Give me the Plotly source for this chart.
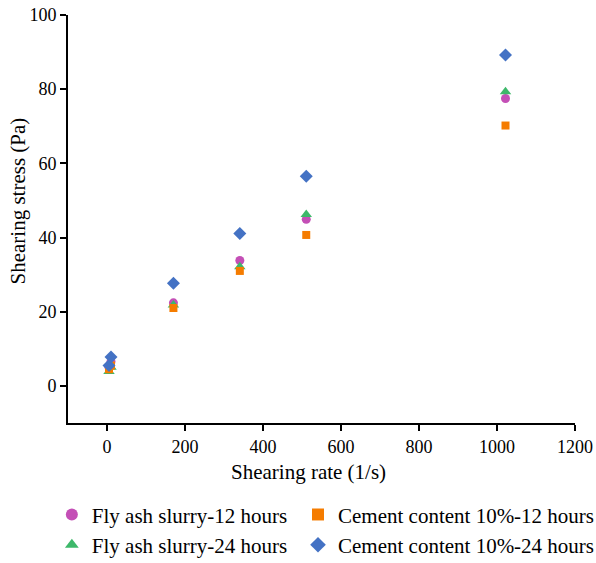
import plotly.graph_objects as go

shear_rate = [5.11, 10.22, 170.3, 340.6, 510.9, 1021.8]
fly_ash_12h = [5.0, 6.5, 22.4, 33.8, 44.9, 77.5]
fly_ash_24h = [3.9, 5.0, 21.8, 32.1, 46.2, 79.3]
cement_12h = [4.5, 5.5, 21.0, 31.0, 40.7, 70.2]
cement_24h = [5.5, 7.8, 27.7, 41.1, 56.5, 89.2]

x_ticks = [0, 200, 400, 600, 800, 1000, 1200]
y_ticks = [0, 20, 40, 60, 80, 100]

FONT = "Liberation Serif"

series = [
    ("Fly ash slurry-12 hours", fly_ash_12h, "circle", "#C44FB6", 9, "legend"),
    ("Fly ash slurry-24 hours", fly_ash_24h, "triangle-up", "#3DB86A", 10, "legend"),
    ("Cement content 10%-12 hours", cement_12h, "square", "#F57C00", 8, "legend2"),
    ("Cement content 10%-24 hours", cement_24h, "diamond", "#4472C4", 10, "legend2"),
]

fig = go.Figure()
for name, ys, sym, col, sz, leg in series:
    fig.add_trace(go.Scatter(
        x=shear_rate, y=ys, mode="markers", name=name, legend=leg,
        marker=dict(symbol=sym, color=col, size=sz, line=dict(width=0)),
    ))

axis_common = dict(
    showgrid=False, zeroline=False, showline=True, linecolor="black", linewidth=2,
    ticks="outside", ticklen=6, tickwidth=2, tickcolor="black", automargin=False,
    tickfont=dict(family=FONT, size=18, color="black"),
)

legend_common = dict(
    orientation="v", xref="container", yref="container",
    xanchor="left", yanchor="top", font=dict(family=FONT, size=21, color="black"),
    itemsizing="constant", tracegroupgap=0, bgcolor="rgba(0,0,0,0)",
)

fig.update_layout(
    width=596, height=563,
    margin=dict(l=68, r=21, t=15, b=140, autoexpand=False),
    plot_bgcolor="white", paper_bgcolor="white",
    font=dict(family=FONT, size=17, color="black"),
    xaxis=dict(range=[-100, 1200], tickvals=x_ticks, **axis_common),
    yaxis=dict(range=[-10, 100], tickvals=y_ticks, **axis_common),
    legend=dict(x=0.087, y=0.122, **legend_common),
    legend2=dict(x=0.50, y=0.122, **legend_common),
    annotations=[
        dict(text="Shearing rate (1/s)", xref="paper", yref="paper", x=0.475, y=-0.12,
             xanchor="center", yanchor="middle", showarrow=False,
             font=dict(family=FONT, size=21, color="black")),
        dict(text="Shearing stress (Pa)", xref="paper", yref="paper", x=-0.099, y=0.545,
             xanchor="center", yanchor="middle", showarrow=False, textangle=-90,
             font=dict(family=FONT, size=21, color="black")),
    ],
)

fig.write_html("out.html")
